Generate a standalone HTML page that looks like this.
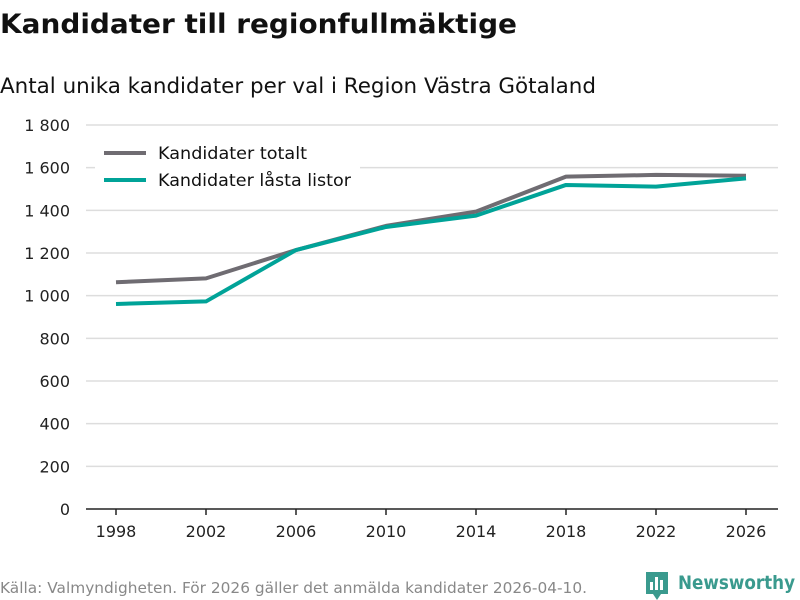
<!DOCTYPE html>
<html><head><meta charset="utf-8"><style>
body{margin:0;background:#fff;font-family:"DejaVu Sans","Liberation Sans",sans-serif;}
svg{display:block}
</style></head><body>
<svg id="c" width="800" height="600" xmlns="http://www.w3.org/2000/svg">
<text x="0" y="33" font-size="27" font-weight="bold" fill="#111" textLength="517" lengthAdjust="spacingAndGlyphs">Kandidater till regionfullmäktige</text>
<text x="0" y="93" font-size="21" fill="#111" textLength="596" lengthAdjust="spacingAndGlyphs">Antal unika kandidater per val i Region Västra Götaland</text>
<g id="grid"></g><g id="yt"></g><g id="xt"></g><g id="lines"></g>
<rect x="95" y="135" width="265" height="62" fill="#fff"/>
<g><line x1="104" y1="153" x2="146" y2="153" stroke="#6f6c72" stroke-width="4"/><text x="158" y="159" font-size="16.5" fill="#111" textLength="149" lengthAdjust="spacingAndGlyphs">Kandidater totalt</text></g>
<g><line x1="104" y1="180" x2="146" y2="180" stroke="#00a398" stroke-width="4"/><text x="158" y="186" font-size="16.5" fill="#111" textLength="193" lengthAdjust="spacingAndGlyphs">Kandidater låsta listor</text></g>
<text x="0" y="593" font-size="15" fill="#888" textLength="587" lengthAdjust="spacingAndGlyphs">Källa: Valmyndigheten. För 2026 gäller det anmälda kandidater 2026-04-10.</text>
<g><path d="M646 572h22v22h-7l-4 6-4-6h-7z" fill="#3a9a8e"/><rect x="650" y="582" width="3" height="8" fill="#fff"/><rect x="655" y="577" width="3" height="13" fill="#fff"/><rect x="660" y="580" width="3" height="10" fill="#fff"/><text x="678" y="589" font-size="19" font-weight="bold" fill="#3a9a8e" textLength="117" lengthAdjust="spacingAndGlyphs">Newsworthy</text></g>
</svg>
<script>
const years=[1998,2002,2006,2010,2014,2018,2022,2026];
const total=[1063,1081,1214,1327,1394,1558,1566,1562];
const locked=[961,973,1214,1322,1375,1519,1511,1550];
const yTicks=[0,200,400,600,800,1000,1200,1400,1600,1800];
const yLabels=["0","200","400","600","800","1 000","1 200","1 400","1 600","1 800"];
const NS="http://www.w3.org/2000/svg";
const x=v=>116+(v-1998)*22.5;
const y=v=>509-v*384/1800;
function mk(t,a,p){const e=document.createElementNS(NS,t);for(const k in a)e.setAttribute(k,a[k]);p.appendChild(e);return e;}
const G=document.getElementById('grid'),YT=document.getElementById('yt'),XT=document.getElementById('xt'),L=document.getElementById('lines');
yTicks.forEach((v,i)=>{
 const ln=mk('line',{x1:86,x2:778,y1:y(v),y2:y(v),stroke:v===0?'#222':'#ddd','stroke-width':1.5},G);
 
 
 const t=mk('text',{x:70,y:y(v)+6,'font-size':16,'text-anchor':'end',fill:'#222'},YT);
 t.textContent=yLabels[i];
 
 
});
years.forEach(v=>{
 const tk=mk('line',{x1:x(v),x2:x(v),y1:509,y2:515,stroke:'#222','stroke-width':1.5},XT);
 
 
 const t=mk('text',{x:x(v),y:537,'font-size':16,'text-anchor':'middle',fill:'#222'},XT);
 t.textContent=v;
 
 
});
[[total,'#6f6c72','line-total'],[locked,'#00a398','line-locked']].forEach(([d,c,n])=>{
 const p=mk('polyline',{points:d.map((v,i)=>x(years[i])+','+y(v)).join(' '),fill:'none',stroke:c,'stroke-width':4,'stroke-linejoin':'round'},L);
 
 
});
</script>
</body></html>
